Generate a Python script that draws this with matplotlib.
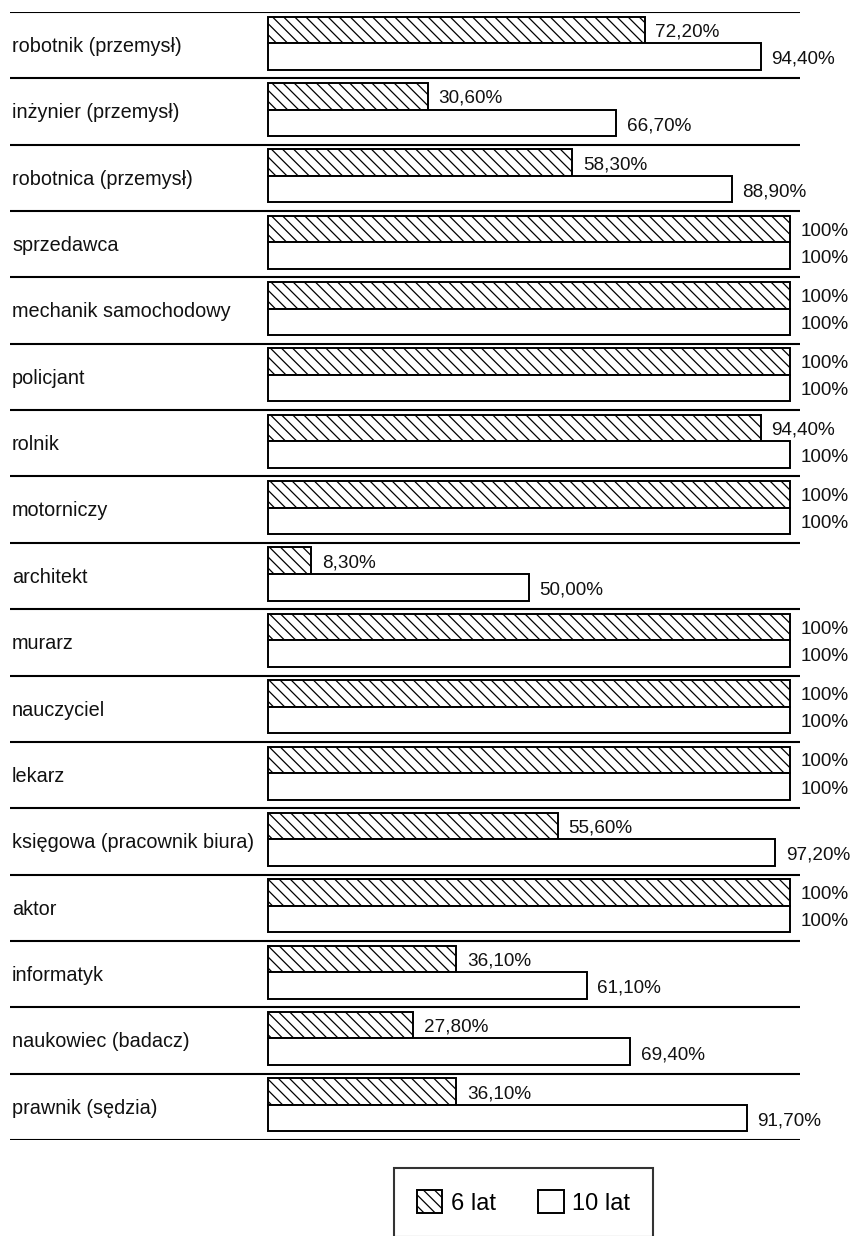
import numpy as np
import matplotlib
matplotlib.use("Agg")
import matplotlib.pyplot as plt
from matplotlib.patches import Patch

plt.rcParams['font.family'] = ['Liberation Sans', 'DejaVu Sans']
plt.rcParams['hatch.linewidth'] = 0.9

categories = ['robotnik (przemysł)', 'inżynier (przemysł)', 'robotnica (przemysł)',
              'sprzedawca', 'mechanik samochodowy', 'policjant', 'rolnik', 'motorniczy',
              'architekt', 'murarz', 'nauczyciel', 'lekarz', 'księgowa (pracownik biura)',
              'aktor', 'informatyk', 'naukowiec (badacz)', 'prawnik (sędzia)']
six_years = [72.2, 30.6, 58.3, 100, 100, 100, 94.4, 100, 8.3, 100, 100, 100, 55.6, 100, 36.1, 27.8, 36.1]
ten_years = [94.4, 66.7, 88.9, 100, 100, 100, 100, 100, 50.0, 100, 100, 100, 97.2, 100, 61.1, 69.4, 91.7]
series_names = ['6 lat', '10 lat']


def fmt(v):
    if v >= 100:
        return '100%'
    return ('%.2f' % v).replace('.', ',') + '%'


W, H = 851, 1236
fig = plt.figure(figsize=(W / 100, H / 100), dpi=100)
top_px, bot_px = 12, 1140
ax = fig.add_axes([0, (H - bot_px) / H, 1, (bot_px - top_px) / H])

px_per_unit = (790 - 268) / 100.0
x0 = -268 / px_per_unit
x1 = (W - 268) / px_per_unit
ax.set_xlim(x0, x1)
n = len(categories)
ax.set_ylim(n, 0)
ax.axis('off')

idx = np.arange(n)
bh = 0.40
y6 = idx + 0.07 + bh / 2
y10 = idx + 0.07 + bh + bh / 2

ax.barh(y6, six_years, height=bh, color='white', edgecolor='black',
        linewidth=1.4, hatch='\\\\\\', zorder=3)
ax.barh(y10, ten_years, height=bh, color='white', edgecolor='black',
        linewidth=1.4, zorder=3)

line_l = (10 - 268) / px_per_unit
line_r = (800 - 268) / px_per_unit
ax.hlines(np.arange(n + 1), line_l, line_r, color='black', linewidth=1.5, zorder=2)

label_x = (12 - 268) / px_per_unit
for i, c in enumerate(categories):
    ax.text(label_x, i + 0.52, c, ha='left', va='center', fontsize=14.3, color='#111111')

for i in range(n):
    ax.annotate(fmt(six_years[i]), (six_years[i], y6[i]), xytext=(7.5, -1.5),
                textcoords='offset points', ha='left', va='center', fontsize=13.6,
                color='#111111')
    ax.annotate(fmt(ten_years[i]), (ten_years[i], y10[i]), xytext=(7.5, -2),
                textcoords='offset points', ha='left', va='center', fontsize=13.6,
                color='#111111')

handles = [Patch(facecolor='white', edgecolor='black', hatch='\\\\\\', linewidth=1.4),
           Patch(facecolor='white', edgecolor='black', linewidth=1.4)]
leg = fig.legend(handles, series_names, loc='upper center',
                 bbox_to_anchor=(523.5 / W, (H - 1168) / H), ncol=2, fontsize=17,
                 frameon=True, fancybox=False, shadow=False, borderpad=0.95,
                 handlelength=1.1, handleheight=1.1, handletextpad=0.35,
                 columnspacing=1.8, borderaxespad=0)
leg.get_frame().set_edgecolor('black')
leg.get_frame().set_linewidth(1.5)

fig.savefig('out.png', dpi=100)
